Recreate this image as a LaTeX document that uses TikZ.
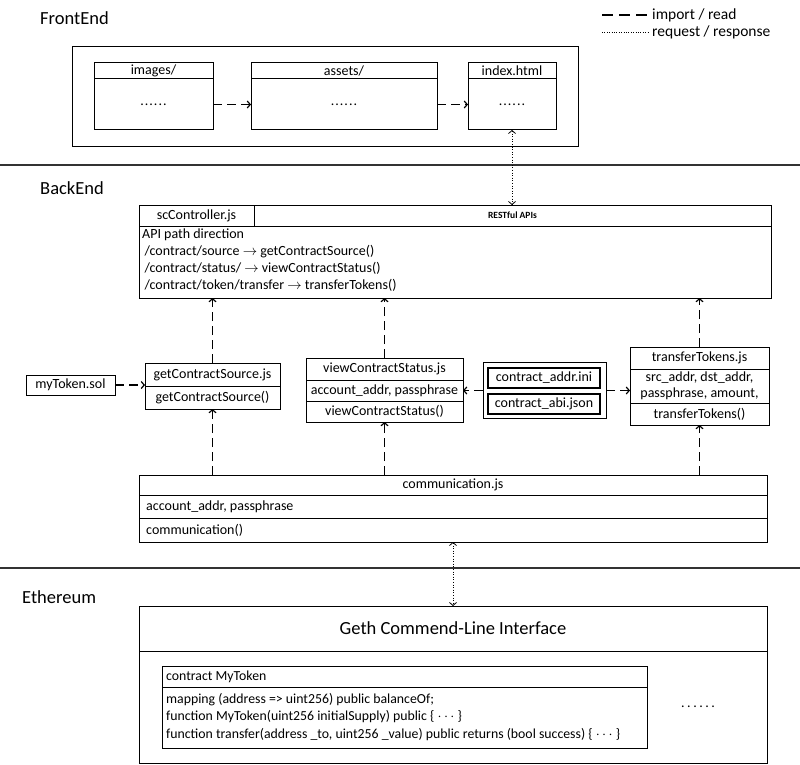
\documentclass[tikz,border=0pt]{standalone}
\usepackage{fontspec}
\setmainfont{Carlito}
\usetikzlibrary{arrows.meta}
\usetikzlibrary{calc, positioning}
\definecolor{linie}{RGB}{0,0,0}
\definecolor{trenner}{RGB}{50,50,50}
\newcommand{\boxfont}{\fontsize{14}{17}\selectfont}
\newcommand{\smallboxfont}{\fontsize{13.8}{17.5}\selectfont}
\newcommand{\titlefont}{\fontsize{18.5}{20}\selectfont}
\newcommand{\moredots}[1]{.\kern#1.\kern#1.\kern#1.\kern#1.\kern#1.}

\begin{document}
\begin{tikzpicture}[x=1pt, y=-1pt, linie,
    box/.style={draw, line width=1pt, inner sep=0pt, outer sep=0pt, anchor=north west, font=\boxfont},
    title/.style={anchor=west, inner sep=0pt, font=\titlefont},
    txt/.style={anchor=west, inner sep=0pt, font=\boxfont},
    dep/.style={line width=1.2pt, dash pattern=on 9pt off 5pt, -{Straight Barb[length=3pt, width=7pt]}},
    req/.style={line width=0.8pt, dash pattern=on 1pt off 1.6pt, {Straight Barb[length=3pt, width=7pt]}-{Straight Barb[length=3pt, width=7pt]}},
    trennlinie/.style={line width=1.6pt, trenner}]

    \useasboundingbox (0,0) rectangle (800,765);

    % legend
    \node[txt, font=\fontsize{15.5}{16}\selectfont] (legImport) at (652,15) {import / read};
    \node[txt, font=\fontsize{15.5}{16}\selectfont] (legReq) at (652,32) {request / response};
    \draw[line width=1.2pt, dash pattern=on 11pt off 6pt] ($(legImport.west)+(-50,0)$) -- ($(legImport.west)+(-5,0)$);
    \draw[line width=0.8pt, dash pattern=on 1pt off 1.4pt] ($(legReq.west)+(-50,0)$) -- ($(legReq.west)+(-4,0)$);

    % FrontEnd
    \node[title] (feLabel) at (40,18) {FrontEnd};
    \node[box, minimum width=506pt, minimum height=99pt] (frontBox) at (72,47) {};
    \node[box, minimum width=119pt, minimum height=16pt] (imgHead) at (94,63) {images/};
    \node[box, minimum width=119pt, minimum height=51pt, below=0pt of imgHead] (imgBody) {\moredots{1pt}};
    \node[box, minimum width=186pt, minimum height=16pt] (assetsHead) at (251,63) {assets/};
    \node[box, minimum width=186pt, minimum height=51pt, below=0pt of assetsHead] (assetsBody) {\moredots{1pt}};
    \node[box, minimum width=88pt, minimum height=16pt] (idxHead) at (468,63) {index.html};
    \node[box, minimum width=88pt, minimum height=51pt, below=0pt of idxHead] (idxBody) {\moredots{1pt}};
    \draw[dep] (imgBody.east) -- (assetsBody.west);
    \draw[dep] (assetsBody.east) -- (idxBody.west);

    \draw[trennlinie] (0,165) -- (800,165);

    % BackEnd
    \node[title] (beLabel) at (40,188) {BackEnd};
    \node[box, minimum width=115pt, minimum height=21pt] (scName) at (139,205) {scController.js};
    \node[box, minimum width=517pt, minimum height=21pt, font=\fontsize{9.5}{10}\selectfont\bfseries] (scApi) at (254,205) {RESTful APIs};
    \node[box, minimum width=632pt, minimum height=72pt] (scBody) at (139,226) {};
    \node[anchor=north west, inner sep=0pt, align=left, font=\boxfont] (scText) at (142,229)
        {API path direction\\
         \,/contract/source $\rightarrow$ getContractSource()\\
         \,/contract/status/ $\rightarrow$ viewContractStatus()\\
         \,/contract/token/transfer $\rightarrow$ transferTokens()};
    \draw[req] (idxBody.south) -- (idxBody.south |- scApi.north);

    \node[box, minimum width=89pt, minimum height=20pt] (myToken) at (26,375) {myToken.sol};

    \node[box, minimum width=135pt, minimum height=23pt] (gcsHead) at (145,363) {getContractSource.js};
    \node[box, minimum width=135pt, minimum height=23pt, below=0pt of gcsHead] (gcsBody) {getContractSource()};

    \node[box, minimum width=157pt, minimum height=22pt] (vcsHead) at (306,358) {viewContractStatus.js};
    \node[box, minimum width=157pt, minimum height=21pt, below=0pt of vcsHead] (vcsVars) {account\_addr, passphrase};
    \node[box, minimum width=157pt, minimum height=21pt, below=0pt of vcsVars] (vcsBody) {viewContractStatus()};

    \node[box, minimum width=123pt, minimum height=56pt] (cfgBox) at (483,362) {};
    \node[box, line width=1.4pt, minimum width=112pt, minimum height=20pt] (cfgAddr) at (488,368) {contract\_addr.ini};
    \node[box, line width=1.4pt, minimum width=112pt, minimum height=20pt] (cfgAbi) at (488,394) {contract\_abi.json};

    \node[box, minimum width=139pt, minimum height=22pt] (ttHead) at (630,347) {transferTokens.js};
    \node[box, minimum width=139pt, minimum height=34pt, align=center, font=\fontsize{14}{16}\selectfont, below=0pt of ttHead] (ttVars) {src\_addr, dst\_addr,\\passphrase, amount,};
    \node[box, minimum width=139pt, minimum height=22pt, below=0pt of ttVars] (ttBody) {transferTokens()};

    \node[box, minimum width=628pt, minimum height=20pt] (commHead) at (139,475) {communication.js};
    \node[box, minimum width=628pt, minimum height=23pt, below=0pt of commHead] (commVars) {};
    \node[box, minimum width=628pt, minimum height=24pt, below=0pt of commVars] (commLow) {};
    \node[txt] (commVarsText) at ([xshift=7pt]commVars.west) {account\_addr, passphrase};
    \node[txt] (commLowText) at ([xshift=7pt]commLow.west) {communication()};

    \draw[dep] (myToken.east) -- (myToken.east -| gcsHead.west);
    \draw[dep] (cfgBox.west |- vcsVars.east) -- (vcsVars.east);
    \draw[dep] (cfgBox.east |- vcsVars.east) -- (ttVars.west |- vcsVars.east);

    \draw[dep] (gcsHead.north) -- (gcsHead.north |- scBody.south);
    \draw[dep] (vcsHead.north) -- (vcsHead.north |- scBody.south);
    \draw[dep] (ttHead.north) -- (ttHead.north |- scBody.south);
    \draw[dep] (gcsBody.south |- commHead.north) -- (gcsBody.south);
    \draw[dep] (vcsBody.south |- commHead.north) -- (vcsBody.south);
    \draw[dep] (ttBody.south |- commHead.north) -- (ttBody.south);

    \draw[trennlinie] (0,568) -- (800,568);

    % Ethereum
    \node[title] (ethLabel) at (22,597) {Ethereum};
    \node[box, minimum width=628pt, minimum height=45pt, font=\titlefont] (gethHead) at (139,606) {Geth Commend-Line Interface};
    \node[box, minimum width=628pt, minimum height=112pt, below=0pt of gethHead] (gethBody) {};
    \draw[req] (commLow.south) -- (gethHead.north);

    \node[box, minimum width=485pt, minimum height=21pt] (mtHead) at (162,666) {};
    \node[box, minimum width=485pt, minimum height=61pt, below=0pt of mtHead] (mtBody) {};
    \node[txt, font=\smallboxfont] (mtName) at ([xshift=4pt]mtHead.west) {contract MyToken};
    \node[anchor=north west, inner sep=0pt, align=left, font=\smallboxfont] (mtText) at ([shift={(4,6)}]mtBody.north west)
        {mapping (address => uint256) public balanceOf;\\
         function MyToken(uint256 initialSupply) public \{ $\cdots$ \}\\
         function transfer(address \_to, uint256 \_value) public returns (bool success) \{ $\cdots$ \}};
    \node[txt] (moreDots) at (681,707) {\moredots{2.5pt}};

\end{tikzpicture}
\end{document}
